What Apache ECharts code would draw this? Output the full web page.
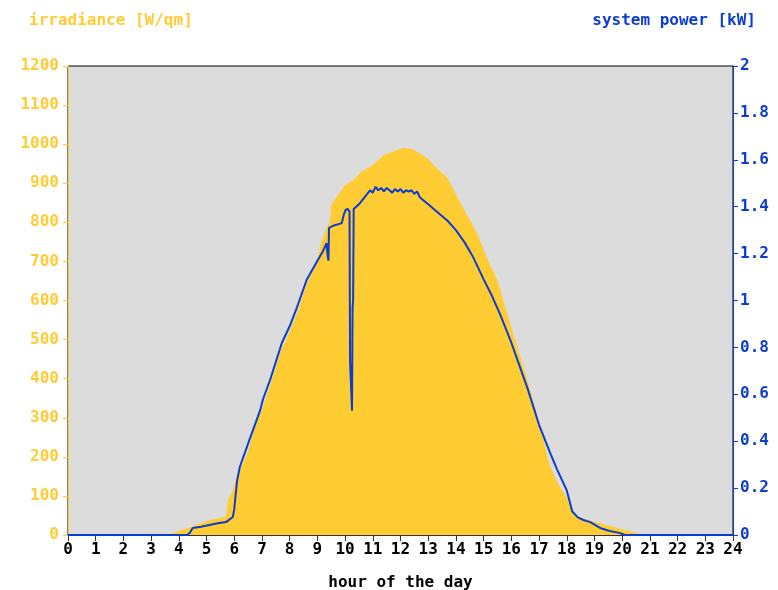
<!DOCTYPE html>
<html>
<head>
<meta charset="utf-8">
<script src="https://cdn.jsdelivr.net/npm/echarts@6/dist/echarts.min.js"></script>
<style>
  html, body { margin: 0; padding: 0; background: #fff; }
  #chart { width: 778px; height: 590px; }
</style>
</head>
<body>
<div id="chart"></div>
<script>
// irradiance curve (W/qm), hour of day
var irrHours = [0, 3.57, 4.0, 4.4, 4.8, 5.1, 5.4, 5.7, 5.78, 5.95, 6.1, 6.2, 6.5, 6.8, 7.0, 7.3, 7.7, 8.0, 8.3, 8.6, 9.0, 9.1, 9.3, 9.45, 9.5, 9.8, 10.0, 10.3, 10.6, 11.0, 11.4, 11.75, 12.1, 12.4, 12.6, 12.95, 13.3, 13.7, 14.05, 14.4, 14.76, 15.1, 15.5, 16.0, 16.5, 17.0, 17.4, 17.7, 18.0, 18.2, 18.5, 19.0, 19.5, 20.0, 20.5, 20.6, 24];
var irrValues = [0, 0, 10, 20, 30, 38, 42, 46, 90, 115, 150, 165, 215, 290, 320, 385, 475, 520, 575, 640, 700, 740, 780, 800, 845, 875, 895, 908, 930, 947, 972, 982, 990, 988, 980, 965, 939, 913, 865, 819, 773, 711, 652, 530, 415, 290, 175, 130, 95, 60, 45, 33, 24, 15, 6, 0, 0];

// system power (kW)
var pwrHours = [0, 4.3, 4.4, 4.5, 4.8, 5.1, 5.4, 5.7, 5.95, 6.0, 6.1, 6.2, 6.5, 6.93, 7.04, 7.29, 7.72, 8.0, 8.26, 8.62, 8.98, 9.2, 9.33, 9.37, 9.4, 9.42, 9.6, 9.88, 9.95, 10.02, 10.1, 10.16, 10.18, 10.23, 10.25, 10.27, 10.29, 10.31, 10.5, 10.7, 10.9, 11.0, 11.1, 11.2, 11.3, 11.4, 11.5, 11.6, 11.7, 11.8, 11.9, 12.0, 12.1, 12.2, 12.3, 12.4, 12.5, 12.6, 12.7, 12.8, 13.0, 13.2, 13.4, 13.7, 14.0, 14.3, 14.6, 15.0, 15.3, 15.6, 16.0, 16.3, 16.6, 17.0, 17.2, 17.4, 17.65, 18.0, 18.2, 18.4, 18.6, 18.85, 19.2, 19.55, 19.9, 20.1, 24];
var pwrValues = [0, 0, 0.01, 0.03, 0.035, 0.043, 0.05, 0.055, 0.077, 0.11, 0.23, 0.29, 0.39, 0.53, 0.58, 0.66, 0.82, 0.89, 0.97, 1.09, 1.165, 1.21, 1.245, 1.19, 1.17, 1.31, 1.32, 1.33, 1.365, 1.386, 1.39, 1.38, 0.74, 0.74, 0.53, 0.97, 1.0, 1.39, 1.41, 1.44, 1.47, 1.46, 1.485, 1.47, 1.48, 1.465, 1.48, 1.47, 1.46, 1.475, 1.465, 1.475, 1.46, 1.47, 1.465, 1.47, 1.455, 1.465, 1.44, 1.43, 1.41, 1.39, 1.37, 1.34, 1.30, 1.25, 1.19, 1.09, 1.02, 0.94, 0.82, 0.72, 0.62, 0.47, 0.41, 0.35, 0.28, 0.19, 0.10, 0.075, 0.064, 0.055, 0.03, 0.017, 0.009, 0, 0];

var yellow = '#ffcc33';
var blue = '#0b3dd0';
var font = 'DejaVu Sans Mono';

function pairs(xs, ys) {
  return xs.map(function (x, i) { return [x, ys[i]]; });
}

var myChart = echarts.init(document.getElementById('chart'));
var option = {
  animation: false,
  title: [{
    text: 'irradiance [W/qm]',
    left: 24, top: 8,
    textStyle: { color: yellow, fontFamily: font, fontWeight: 'bold', fontSize: 16 }
  }, {
    text: 'system power [kW]',
    right: 17, top: 8,
    textStyle: { color: blue, fontFamily: font, fontWeight: 'bold', fontSize: 16 }
  }],
  grid: {
    left: 68, right: 45, top: 66, bottom: 55,
    outerBoundsMode: 'none',
    containLabel: false,
    show: true,
    backgroundColor: '#dcdcdc',
    borderColor: '#000',
    borderWidth: 1
  },
  xAxis: {
    type: 'value',
    min: 0, max: 24, interval: 1,
    name: 'hour of the day',
    nameLocation: 'middle',
    nameGap: 40,
    nameTextStyle: { color: '#000', fontFamily: font, fontWeight: 'bold', fontSize: 16 },
    axisLine: { lineStyle: { color: '#333', width: 2 } },
    axisTick: { lineStyle: { color: '#333' }, length: 6 },
    axisLabel: { color: '#000', fontFamily: font, fontWeight: 'bold', fontSize: 16, margin: 7 },
    splitLine: { show: false }
  },
  yAxis: [{
    type: 'value',
    min: 0, max: 1200, interval: 100,
    position: 'left',
    axisLine: { show: true, lineStyle: { color: yellow, width: 1 } },
    axisTick: { show: true, lineStyle: { color: yellow }, length: 5 },
    axisLabel: {
      color: yellow, fontFamily: font, fontWeight: 'bold', fontSize: 16, margin: 9,
      formatter: function (v) { return String(v); }
    },
    splitLine: { show: false }
  }, {
    type: 'value',
    min: 0, max: 2, interval: 0.2,
    position: 'right',
    axisLine: { show: true, lineStyle: { color: blue, width: 1 } },
    axisTick: { show: true, lineStyle: { color: blue }, length: 5 },
    axisLabel: {
      color: blue, fontFamily: font, fontWeight: 'bold', fontSize: 16, margin: 7,
      formatter: function (v) { return String(Math.round(v * 10) / 10); }
    },
    splitLine: { show: false }
  }],
  series: [{
    name: 'irradiance',
    type: 'line',
    yAxisIndex: 0,
    data: pairs(irrHours, irrValues),
    showSymbol: false,
    lineStyle: { width: 0 },
    itemStyle: { color: yellow },
    areaStyle: { color: yellow, opacity: 1 }
  }, {
    name: 'system power',
    type: 'line',
    yAxisIndex: 1,
    data: pairs(pwrHours, pwrValues),
    showSymbol: false,
    lineStyle: { width: 2, color: blue },
    itemStyle: { color: blue }
  }]
};
myChart.setOption(option);
</script>
</body>
</html>
